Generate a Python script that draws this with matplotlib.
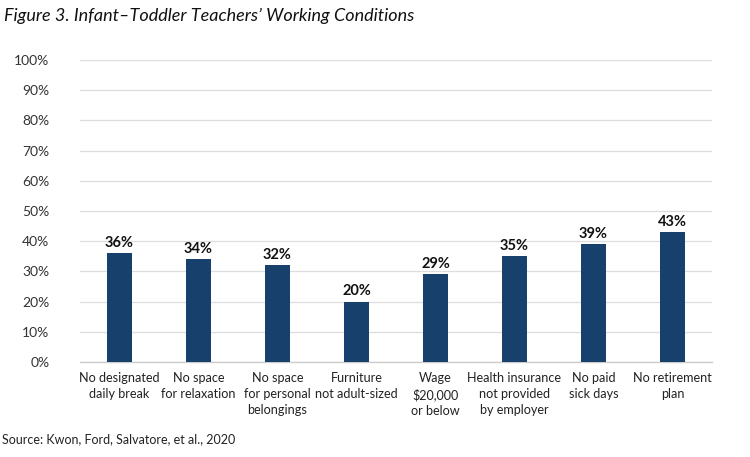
import numpy as np
import matplotlib
matplotlib.use("Agg")
import matplotlib.pyplot as plt

categories = ["No designated\ndaily break", "No space\nfor relaxation", "No space\nfor personal\nbelongings",
              "Furniture\nnot adult-sized", "Wage\n$20,000\nor below", "Health insurance\nnot provided\nby employer",
              "No paid\nsick days", "No retirement\nplan"]
values = [36, 34, 32, 20, 29, 35, 39, 43]
yticks = list(range(0, 101, 10))

plt.rcParams['font.family'] = ['Lato', 'DejaVu Sans']
bar_color = "#17406D"

fig = plt.figure(figsize=(7.5, 4.57), dpi=100)
ax = fig.add_axes([0.1067, 0.2079, 0.8426, 0.6608])
x = np.arange(len(categories))
ax.bar(x, values, width=0.32, color=bar_color, zorder=3)
for xi, v in zip(x, values):
    ax.text(xi, v + 1.2, f"{v}%", ha="center", va="bottom", fontsize=10.5, fontweight="bold", color="#111111")

ax.set_xlim(-0.5, len(categories) - 0.5)
ax.set_ylim(0, 100)
ax.set_yticks(yticks)
ax.set_yticklabels([f"{t}%" for t in yticks], fontsize=10, color="#333333")
ax.set_xticks(x)
ax.set_xticklabels(categories, fontsize=9.1, color="#222222", linespacing=1.4)
ax.tick_params(axis="both", length=0)
ax.tick_params(axis="y", pad=22)
ax.tick_params(axis="x", pad=7)
ax.grid(axis="y", color="#DDDDDD", linewidth=0.9, zorder=0)
for s in ["top", "right", "left"]:
    ax.spines[s].set_visible(False)
ax.spines["bottom"].set_color("#CCCCCC")
ax.spines["bottom"].set_linewidth(1.0)

fig.text(0.005, 0.965, "Figure 3. Infant\u2013Toddler Teachers\u2019 Working Conditions", fontsize=13,
         style="italic", color="#111111", va="center", ha="left")
fig.text(0.003, 0.04, "Source: Kwon, Ford, Salvatore, et al., 2020", fontsize=9, color="#222222",
         va="center", ha="left")

fig.savefig("out.png", dpi=100)
